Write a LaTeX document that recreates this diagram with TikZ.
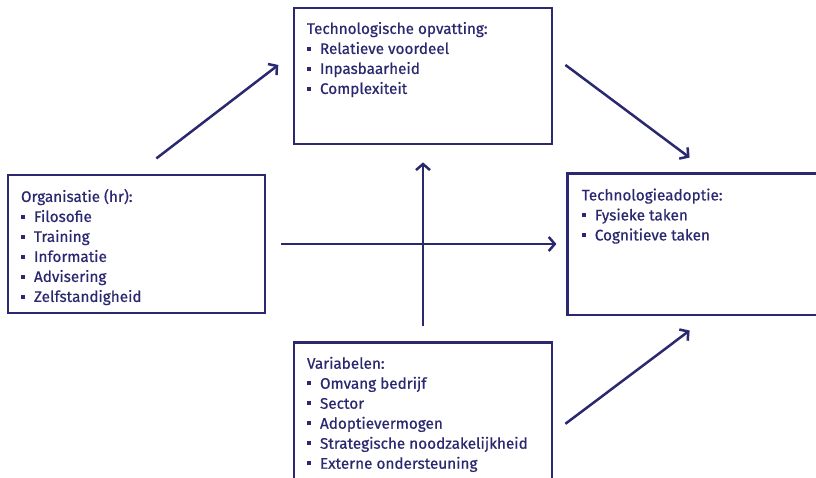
\documentclass[tikz,border=0pt]{standalone}
\usepackage{fontspec}
\setmainfont{Fira Sans}[UprightFeatures={FakeBold=0.6}]
\usetikzlibrary{arrows.meta, positioning}
\definecolor{navy}{RGB}{42,40,110}
\tikzstyle{block} = [draw=navy, line width=2.8pt, rectangle, inner xsep=13pt, inner ysep=14pt, text=navy, font=\fontsize{15.3}{20}\selectfont]
\tikzstyle{edge} = [draw=navy, line width=2.8pt]
\tikzstyle{arr} = [draw=navy, line width=2.5pt, -{Straight Barb[length=6pt,width=14pt]}]
\newcommand{\itm}{\\\rule[3.3pt]{4pt}{4pt}\hspace{9pt}}

\begin{document}
\begin{tikzpicture}[x=1pt, y=-1pt]
    \useasboundingbox (0,0) rectangle (816,477);
    \node [block] (opv) at (423,76) {\parbox[t][108pt][t]{232pt}{Technologische opvatting:\itm Relatieve voordeel\itm Inpasbaarheid\itm Complexiteit}};
    \node [block] (org) at (136.5,244) {\parbox[t][110pt][t]{231pt}{Organisatie (hr):\itm Filosofie\itm Training\itm Informatie\itm Advisering\itm Zelfstandigheid}};
    \node [block, draw=none, right=301pt of org] (adop) {\parbox[t][111pt][t]{224pt}{Technologieadoptie:\itm Fysieke taken\itm Cognitieve taken}};
    \node [block, below=196pt of opv] (var) {\parbox[t][112pt][t]{232pt}{Variabelen:\itm Omvang bedrijf\itm Sector\itm Adoptievermogen\itm Strategische noodzakelijkheid\itm Externe ondersteuning}};
    % open on the right side
    \draw [edge] (adop.north east) -- (adop.north west) -- (adop.south west) -- (adop.south east);
    \draw [arr, shorten <=25pt, shorten >=18pt] (org.north) -- ([yshift=22pt]opv.west);
    \draw [arr, shorten <=15pt, shorten >=26pt] ([yshift=20pt]opv.east) -- ([xshift=143pt]adop.north west);
    \draw [arr, shorten <=15pt, shorten >=11pt] (org.east) -- (adop.west);
    \draw [arr, shorten <=15pt, shorten >=17pt] (var.north) -- (opv.south);
    \draw [arr, shorten <=15pt, shorten >=26pt] ([yshift=-20pt]var.east) -- ([xshift=143pt]adop.south west);
\end{tikzpicture}
\end{document}
